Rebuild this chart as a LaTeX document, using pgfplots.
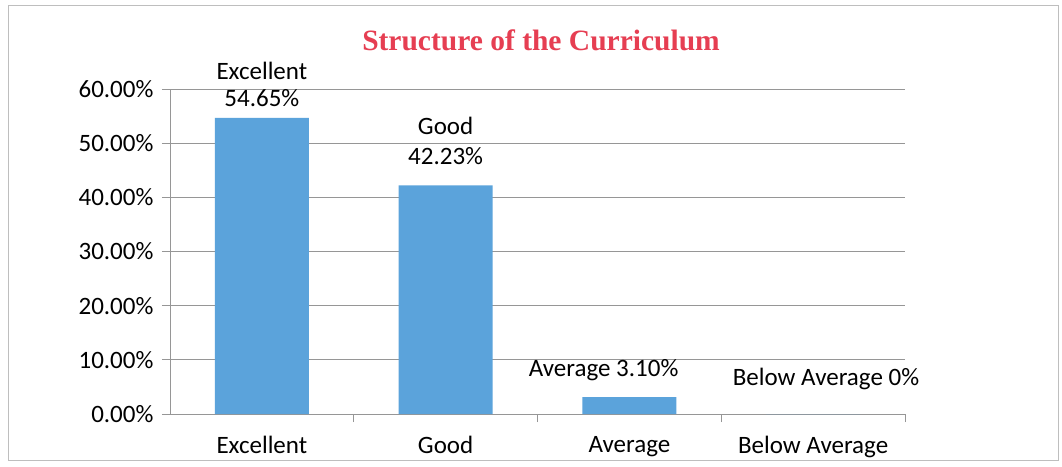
\documentclass[border=0pt]{standalone}
\usepackage{pgfplots}
\pgfplotsset{compat=1.18}
\usepackage{fontspec}
\setmainfont{Carlito}
\newfontfamily\titlefont{Liberation Serif}

\definecolor{barblue}{RGB}{91,163,219}
\definecolor{titlered}{RGB}{230,62,82}
\definecolor{gridgray}{RGB}{150,150,150}
\definecolor{framegray}{RGB}{190,190,190}

\begin{document}
\begin{tikzpicture}[x=1pt,y=1pt]
\path[fill=white] (-170,-52) rectangle (892,414);
\draw[framegray] (-162,-46) rectangle (888,409);
\node[font=\titlefont\bfseries\fontsize{29.5}{33}\selectfont, text=titlered] at (371,374) {Structure of the Curriculum};
\begin{axis}[
at={(0,0)}, anchor=south west,
scale only axis,
width=735pt, height=325pt,
ybar, bar width=94pt,
xmin=-0.5, xmax=3.5,
ymin=0, ymax=60,
ytick={0,10,20,30,40,50,60},
yticklabels={0.00\%,10.00\%,20.00\%,30.00\%,40.00\%,50.00\%,60.00\%},
ymajorgrids,
y grid style={gridgray, line width=0.8pt},
xtick={0.5,1.5,2.5,3.5},
xticklabels={},
extra x ticks={0,1,2,3},
extra x tick labels={Excellent,Good,Average,Below Average},
extra x tick style={grid=none, major tick length=0pt},
axis x line*=bottom, axis y line*=left,
axis line style={gridgray, line width=0.8pt},
tick align=outside,
tick style={gridgray, line width=0.8pt},
major tick length=8pt,
tick label style={font=\fontsize{25}{29}\selectfont, text=black},
xticklabel style={yshift=-19pt},
yticklabel style={xshift=-5pt},
/pgf/number format/assume math mode=true,
clip=false,
]
\addplot[fill=barblue, draw=none] coordinates {(0,54.65) (1,42.23) (2,3.10) (3,0)};
\node[align=center, font=\fontsize{25}{27}\selectfont] at (axis cs:0,60.9) {Excellent\\54.65\%};
\node[align=center, font=\fontsize{25}{30}\selectfont] at (axis cs:1,50.4) {Good\\42.23\%};
\node[font=\fontsize{25}{29}\selectfont] at (axis cs:1.86,8.1) {Average 3.10\%};
\node[font=\fontsize{25}{29}\selectfont] at (axis cs:3.07,6.5) {Below Average 0\%};
\end{axis}
\end{tikzpicture}
\end{document}
